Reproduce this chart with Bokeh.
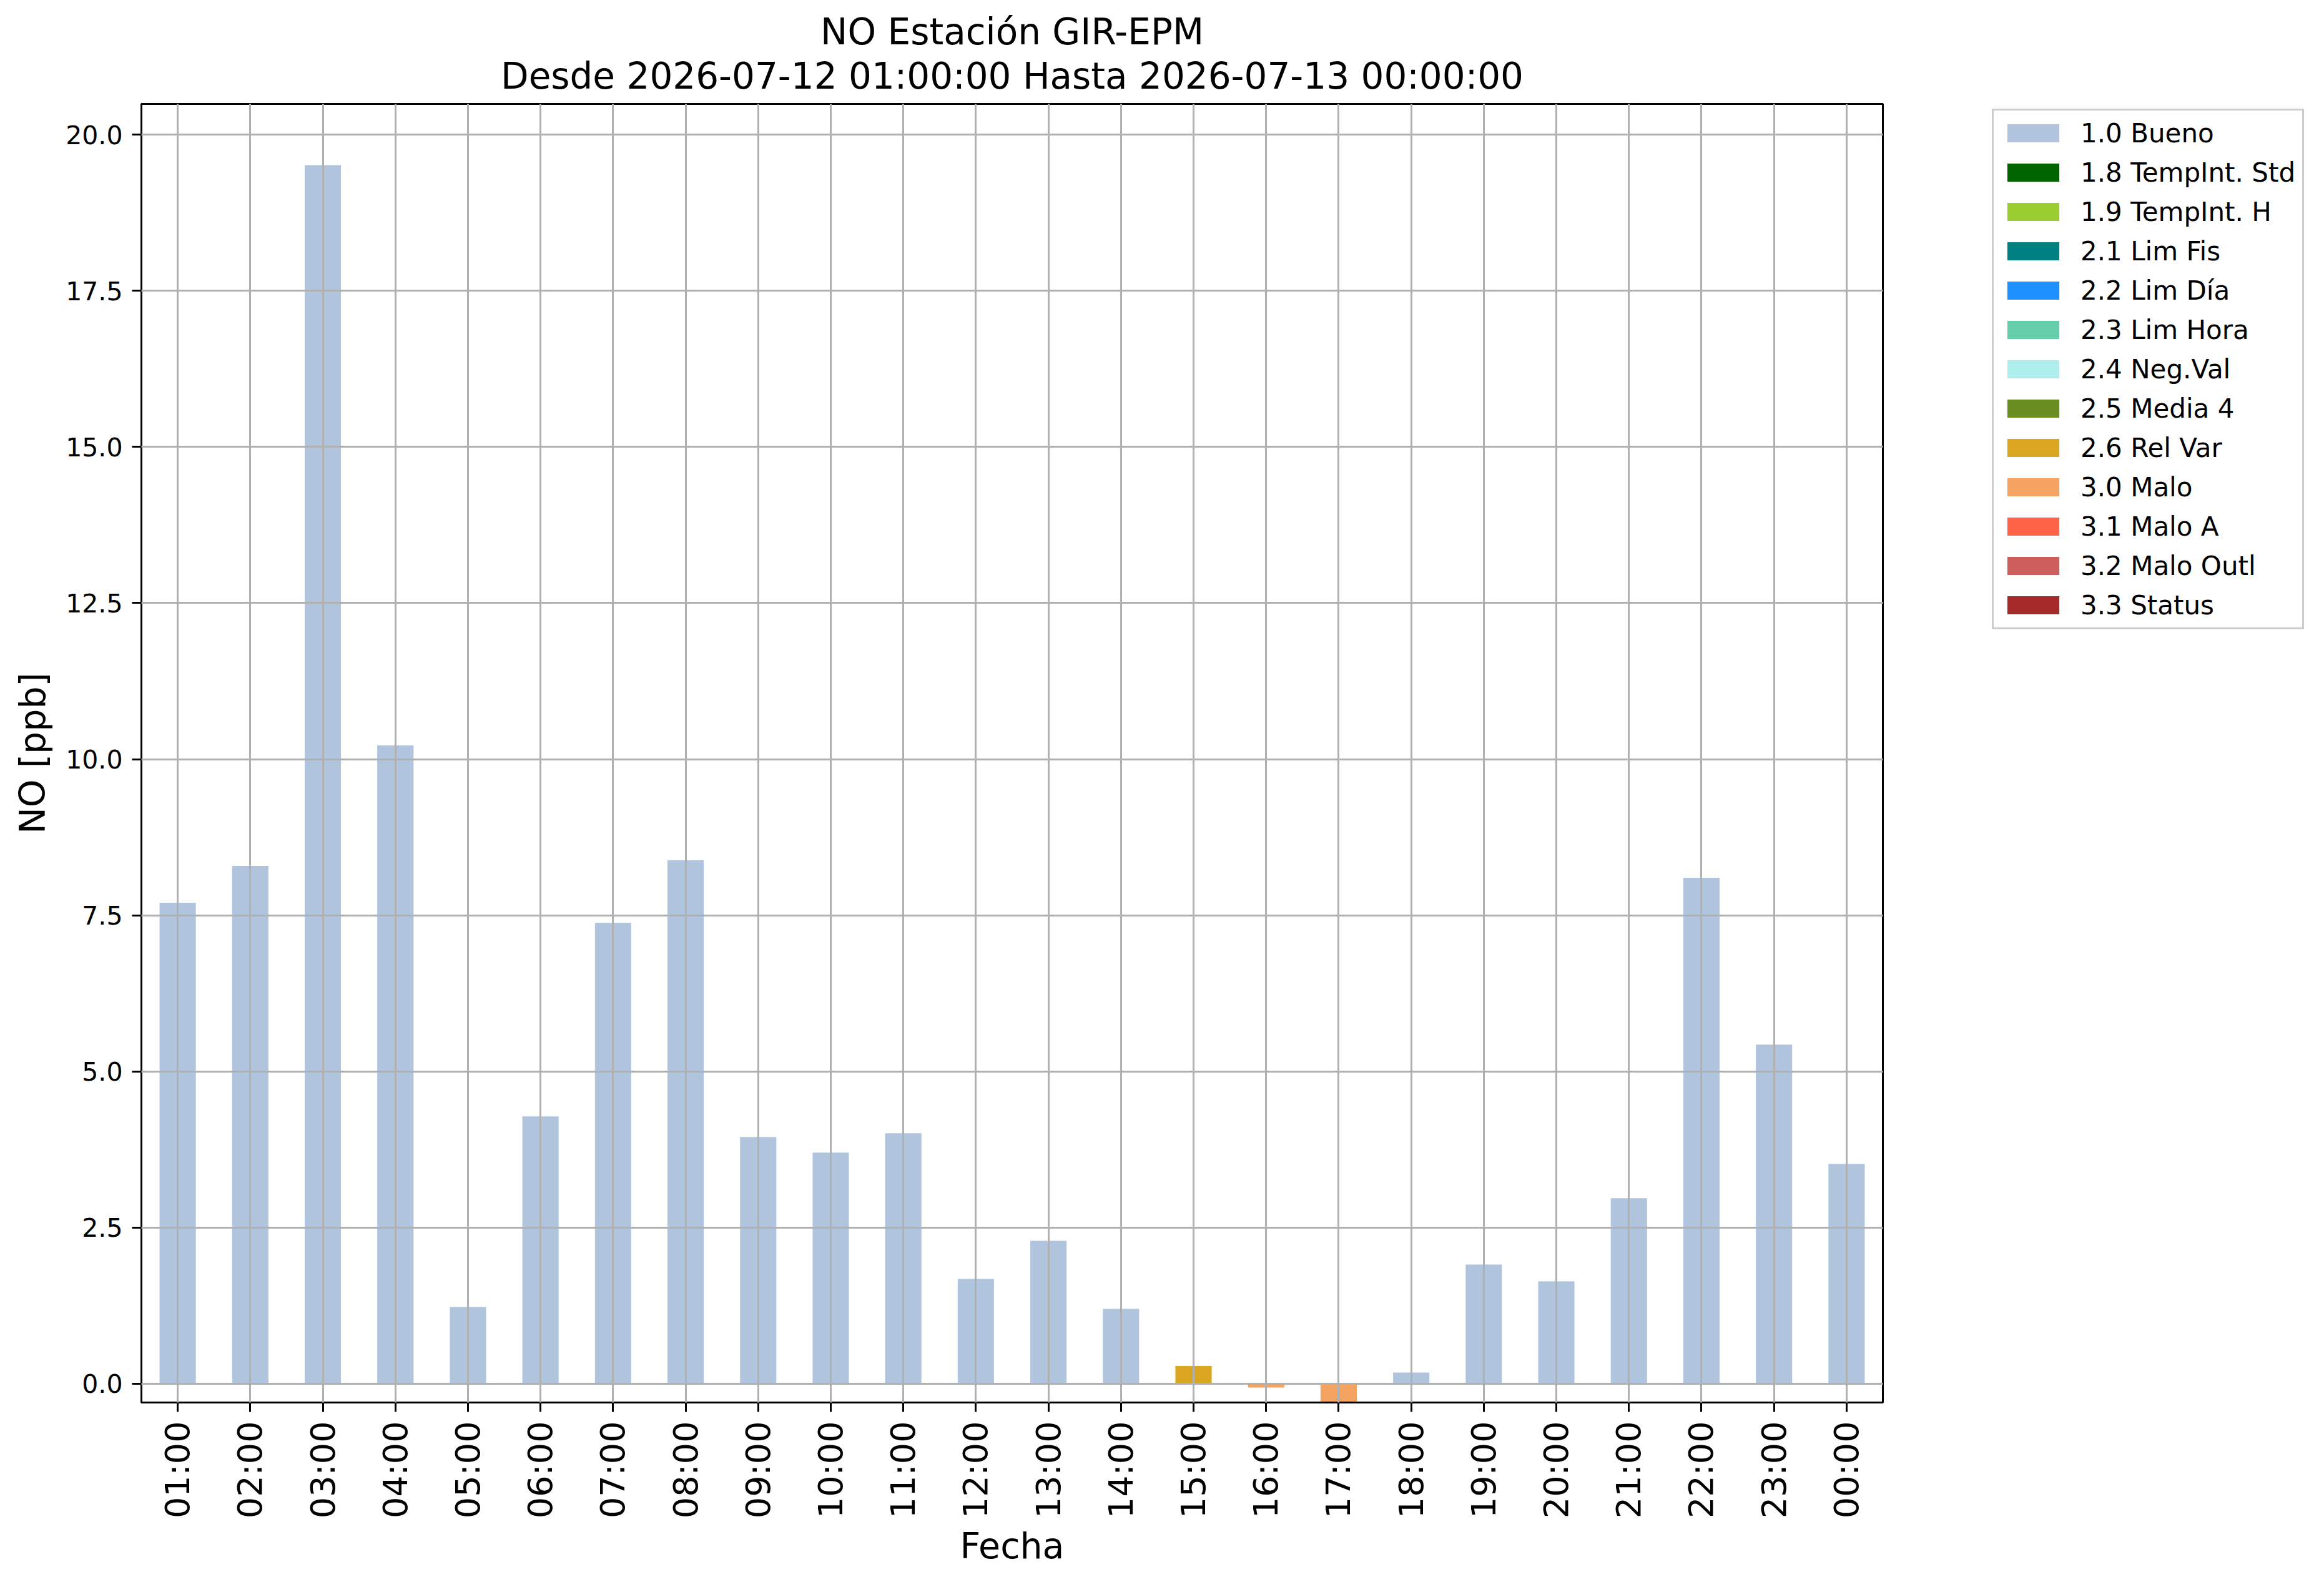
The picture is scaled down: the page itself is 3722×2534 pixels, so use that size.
import math
from bokeh.plotting import figure
from bokeh.layouts import row
from bokeh.models import (ColumnDataSource, FactorRange, Range1d, FixedTicker,
                          NumeralTickFormatter, Legend, LegendItem, Title)
from bokeh.embed import file_html
from bokeh.resources import INLINE

# ---------------- data ----------------
hours = ["01:00", "02:00", "03:00", "04:00", "05:00", "06:00", "07:00", "08:00",
         "09:00", "10:00", "11:00", "12:00", "13:00", "14:00", "15:00", "16:00",
         "17:00", "18:00", "19:00", "20:00", "21:00", "22:00", "23:00", "00:00"]
no_ppb = [7.70, 8.29, 19.51, 10.22, 1.23, 4.28, 7.38, 8.38,
          3.95, 3.70, 4.01, 1.68, 2.29, 1.20, 0.285, -0.06,
          -0.30, 0.18, 1.91, 1.64, 2.97, 8.10, 5.43, 3.52]
flags = ["1.0 Bueno"] * 14 + ["2.6 Rel Var", "3.0 Malo", "3.0 Malo"] + ["1.0 Bueno"] * 7

flag_labels = ["1.0 Bueno", "1.8 TempInt. Std", "1.9 TempInt. H", "2.1 Lim Fis",
               "2.2 Lim Día", "2.3 Lim Hora", "2.4 Neg.Val", "2.5 Media 4",
               "2.6 Rel Var", "3.0 Malo", "3.1 Malo A", "3.2 Malo Outl", "3.3 Status"]
flag_colors = ["#B0C4DE", "#006400", "#9ACD32", "#008080", "#1E90FF", "#66CDAA",
               "#AFEEEE", "#6B8E23", "#DAA520", "#F4A460", "#FF6347", "#CD5C5C",
               "#A52A2A"]
y_ticks = [0.0, 2.5, 5.0, 7.5, 10.0, 12.5, 15.0, 17.5, 20.0]

title_line1 = "NO Estación GIR-EPM"
title_line2 = "Desde 2026-07-12 01:00:00 Hasta 2026-07-13 00:00:00"
x_label = "Fecha"
y_label = "NO [ppb]"

FONT = "DejaVu Sans"

H = 2526
B_LEFT, B_RIGHT, B_TOP, B_BOTTOM = 226, 10, 166, 280
FRAME_W = 2789
FRAME_H = H - B_TOP - B_BOTTOM
W1 = B_LEFT + FRAME_W + B_RIGHT
W2 = 3714 - W1

# ---------------- main figure ----------------
p = figure(width=W1, height=H, output_backend="svg", toolbar_location=None,
           x_range=FactorRange(factors=hours),
           y_range=Range1d(-0.30, 20.49),
           min_border_left=B_LEFT, min_border_right=B_RIGHT,
           min_border_top=B_TOP, min_border_bottom=B_BOTTOM)
p.background_fill_color = "white"
p.border_fill_color = "white"
p.outline_line_color = "black"
p.outline_line_width = 3
p.outline_line_alpha = 1.0

for lab, col in zip(flag_labels, flag_colors):
    xs = [h for h, f in zip(hours, flags) if f == lab]
    ys = [v for v, f in zip(no_ppb, flags) if f == lab]
    if not xs:
        continue
    src = ColumnDataSource(dict(x=xs, top=ys))
    p.vbar(x="x", top="top", bottom=0, width=0.5, source=src,
           fill_color=col, line_color=None)

# axes
for ax in (p.xaxis, p.yaxis):
    ax.axis_line_color = "black"
    ax.axis_line_width = 3
    ax.major_tick_line_color = "black"
    ax.major_tick_line_width = 3
    ax.major_tick_out = 15
    ax.major_tick_in = 0
    ax.minor_tick_line_color = None
    ax.major_label_standoff = 15
    ax.axis_label_text_font = FONT
    ax.axis_label_text_font_style = "normal"
    ax.axis_label_text_font_size = "57px"
    ax.axis_label_text_color = "black"
    ax.major_label_text_font = FONT
    ax.major_label_text_color = "black"

p.xaxis.axis_label = x_label
p.yaxis.axis_label = y_label
p.xaxis.axis_label_standoff = 8
p.yaxis.axis_label_standoff = 17
p.xaxis.major_label_orientation = math.pi / 2
p.xaxis.major_label_text_font_size = "54px"
p.yaxis.major_label_text_font_size = "41px"
p.yaxis.ticker = FixedTicker(ticks=y_ticks)
p.yaxis.formatter = NumeralTickFormatter(format="0.0")

# grid (drawn over the bars, like the reference)
for g in (p.xgrid, p.ygrid):
    g.grid_line_color = "#b0b0b0"
    g.grid_line_width = 3
    g.level = "guide"
p.ygrid.ticker = FixedTicker(ticks=y_ticks)

# titles: second line first (nearest the frame)
p.title = None
p.add_layout(Title(text=title_line2, align="center", text_font=FONT,
                   text_font_size="58px", text_font_style="normal",
                   text_color="black", standoff=21), "above")
p.add_layout(Title(text=title_line1, align="center", text_font=FONT,
                   text_font_size="58px", text_font_style="normal",
                   text_color="black", standoff=-19), "above")

# ---------------- legend panel ----------------
p2 = figure(width=W2, height=H, output_backend="svg", toolbar_location=None,
            x_range=Range1d(0, 1), y_range=Range1d(0, 1),
            x_axis_type=None, y_axis_type=None,
            min_border_left=0, min_border_right=0,
            min_border_top=0, min_border_bottom=0)
p2.title = None
p2.outline_line_color = None
p2.background_fill_color = "white"
p2.border_fill_color = "white"
p2.xgrid.visible = False
p2.ygrid.visible = False

items = []
for lab, col in zip(flag_labels, flag_colors):
    # swatch-only renderer: a single off-range key so the legend draws the patch
    src = ColumnDataSource(dict(x=[-5.0], top=[0.0]))
    r = p2.vbar(x="x", top="top", bottom=0, width=0.5, source=src,
                fill_color=col, line_color=None)
    items.append(LegendItem(label=lab, renderers=[r]))

LEG_PAD, LEG_ROW, LEG_SP = 11, 50, 13
n = len(flag_labels)
leg_h = 2 * LEG_PAD + n * LEG_ROW + (n - 1) * LEG_SP
# the legend panel's frame lines up with the main frame (top 166, bottom 2246)
legend = Legend(items=items, location=(165, FRAME_H - 14 - leg_h))
legend.margin = 0
legend.label_text_font = FONT
legend.label_text_font_size = "42px"
legend.label_text_color = "black"
legend.glyph_width = 104
legend.glyph_height = 36
legend.label_height = LEG_ROW
legend.label_standoff = 24
legend.spacing = LEG_SP
legend.padding = LEG_PAD
legend.border_line_color = "#cccccc"
legend.border_line_width = 3
legend.border_line_alpha = 1.0
legend.background_fill_color = "white"
legend.background_fill_alpha = 1.0
p2.add_layout(legend)

layout = row(p, p2)
open("out.html", "w").write(file_html(layout, INLINE))
